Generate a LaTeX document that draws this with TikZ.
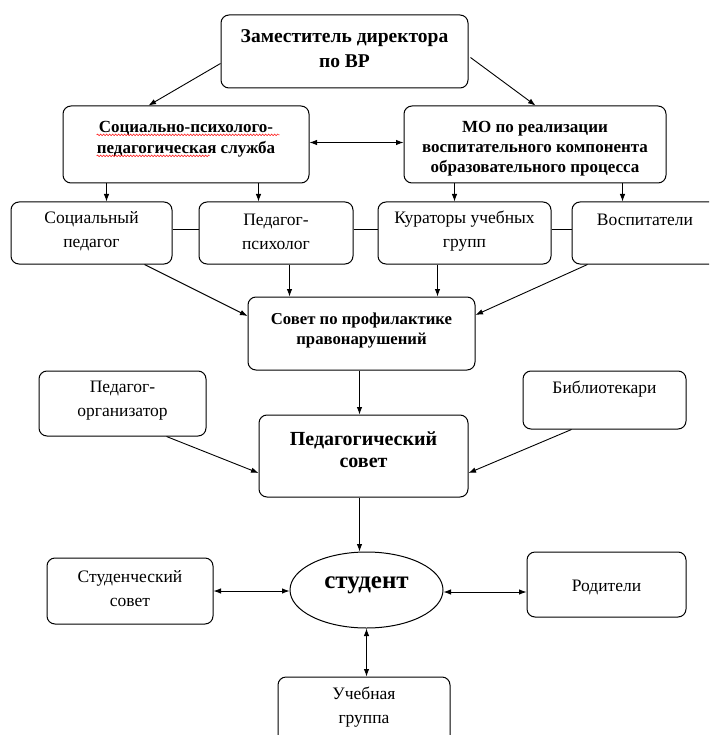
\documentclass[tikz,border=0pt]{standalone}
\usepackage{fontspec}
\setmainfont{Liberation Serif}
\usetikzlibrary{arrows.meta,calc,decorations.pathmorphing,shapes.geometric}
\begin{document}
\begin{tikzpicture}[x=1pt,y=1pt,
  box/.style 2 args={draw, rounded corners=8pt, line width=1pt, inner sep=0pt, minimum width=#1, minimum height=#2},
  txt/.style={align=center, inner sep=0pt, font=\fontsize{17.5}{24}\selectfont},
  btxt/.style={align=center, inner sep=0pt},
  arr/.style={-{Latex[length=7.5pt,width=5.5pt]}, line width=0.9pt},
  darr/.style={{Latex[length=7.5pt,width=5.5pt]}-{Latex[length=7.5pt,width=5.5pt]}, line width=0.9pt},
  ln/.style={line width=0.9pt},
  squig/.style={red, line width=0.5pt, decorate, decoration={snake, amplitude=0.8pt, segment length=3pt}}]
\useasboundingbox (0,0) rectangle (709,-735);
\clip (0,0) rectangle (709,-735);
\fill[white] (0,0) rectangle (709,-735);
% boxes
\node[box={247pt}{73pt}] (zam) at (344.5,-51.5) {};
\node[box={246pt}{77pt}] (spps) at (186,-144.5) {};
\node[box={262pt}{77pt}] (mo) at (535,-144.5) {};
\node[box={161pt}{62pt}] (soc) at (91.5,-233) {};
\node[box={154pt}{62pt}] (psy) at (276,-233) {};
\node[box={173pt}{62pt}] (kur) at (464.5,-233) {};
\node[box={146pt}{62pt}] (vos) at (645,-233) {};
\node[box={227pt}{73pt}] (sovet) at (361.5,-333.5) {};
\node[box={167pt}{65pt}] (porg) at (122.5,-403.5) {};
\node[box={163pt}{58pt}] (bib) at (604.5,-400) {};
\node[box={209pt}{82pt}] (pedsov) at (363.5,-456) {};
\node[draw, ellipse, line width=1pt, inner sep=0pt, minimum width=153pt, minimum height=76pt] (stud) at (366.5,-590) {};
\node[box={166pt}{66pt}] (stsov) at (130,-591) {};
\node[box={159pt}{65pt}] (rod) at (606.5,-584.5) {};
\node[box={172pt}{90pt}] (ucheb) at (364,-722) {};
% texts
\node[btxt, font=\bfseries\fontsize{19.5}{25}\selectfont] (zamT) at (344.5,-49) {Заместитель директора\\по ВР};
\node[btxt, font=\bfseries\fontsize{17}{21}\selectfont] (sppsT) at (186,-139) {Социально-психолого-\\педагогическая служба};
\node[btxt, font=\bfseries\fontsize{17}{20}\selectfont] (moT) at (535,-149) {МО по реализации\\воспитательного компонента\\образовательного процесса};
\node[txt] (socT) at (91.5,-231.5) {Социальный\\педагог};
\node[txt] (psyT) at (276,-231.5) {Педагог-\\психолог};
\node[txt] (kurT) at (464.5,-231.5) {Кураторы учебных\\групп};
\node[txt] (vosT) at (645,-219.5) {Воспитатели};
\node[btxt, font=\bfseries\fontsize{16.7}{20}\selectfont] (sovetT) at (361.5,-331) {Совет по профилактике\\правонарушений};
\node[txt] (porgT) at (122.5,-400.5) {Педагог-\\организатор};
\node[txt] (bibT) at (604.5,-389) {Библиотекари};
\node[btxt, font=\bfseries\fontsize{20}{22}\selectfont] (pedsovT) at (363.5,-450) {Педагогический\\совет};
\node[btxt, font=\bfseries\fontsize{25}{30}\selectfont] (studT) at (366.5,-585) {студент};
\node[txt] (stsovT) at (130,-588.5) {Студенческий\\совет};
\node[txt] (rodT) at (606.5,-587) {Родители};
\node[txt] (uchebT) at (364,-707.5) {Учебная\\группа};
% spell-check squiggles
\draw[squig] ($(sppsT.north west)+(0,-14)$) -- ++(183,0);
\draw[squig] ($(sppsT.north west)+(0,-35)$) -- ++(113,0);
% connectors
\draw[arr] ($(zam.west)+(0,-12)$) -- ($(spps.north west)+(86,0)$);
\draw[arr] ($(zam.east)+(2,-6)$) -- ($(mo.north west)+(132,0)$);
\draw[darr] ($(spps.east)+(0,2)$) -- ($(mo.west)+(0,2)$);
\draw[arr] ($(spps.south west)+(44,0)$) coordinate (a1) -- (a1 |- soc.north);
\draw[arr] ($(spps.south west)+(196,0)$) coordinate (a2) -- (a2 |- psy.north);
\draw[arr] ($(mo.south west)+(51,0)$) coordinate (a3) -- (a3 |- kur.north);
\draw[arr] ($(mo.south west)+(219,0)$) coordinate (a4) -- (a4 |- vos.north);
\draw[ln] ($(soc.east)+(0,4)$) -- ($(psy.west)+(0,4)$);
\draw[ln] ($(psy.east)+(0,4)$) -- ($(kur.west)+(0,4)$);
\draw[ln] ($(kur.east)+(0,4)$) -- ($(vos.west)+(0,4)$);
\draw[arr] ($(soc.south west)+(134,0)$) -- ($(sovet.west)+(0,17.5)$);
\draw[arr] ($(psy.south west)+(91,0)$) coordinate (b2) -- (b2 |- sovet.north);
\draw[arr] ($(kur.south west)+(60,0)$) coordinate (b3) -- (b3 |- sovet.north);
\draw[arr] ($(vos.south west)+(16,0)$) -- ($(sovet.east)+(0,18.5)$);
\draw[arr] ($(sovet.south west)+(112,0)$) coordinate (c1) -- (c1 |- pedsov.north);
\draw[arr] ($(porg.south west)+(128,0)$) -- ($(pedsov.west)+(0,-17)$);
\draw[arr] ($(bib.south west)+(49,0)$) -- ($(pedsov.east)+(0,-17)$);
\draw[arr] ($(pedsov.south west)+(101,0)$) coordinate (d1) -- (d1 |- stud.north);
\draw[darr] (stsov.east) -- (stsov.east -| stud.west);
\draw[darr] ($(stud.east)+(0,-2)$) coordinate (e1) -- (e1 -| rod.west);
\draw[darr] (stud.south) -- (stud.south |- ucheb.north);
\end{tikzpicture}
\end{document}
